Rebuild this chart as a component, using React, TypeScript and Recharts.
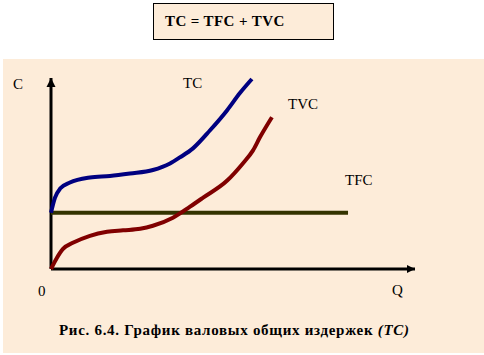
import React from "react";
import { LineChart, Line, XAxis, YAxis, ReferenceDot, ReferenceLine } from "recharts";

// Q (output) vs C (cost)
const tcData = [
  { q: 0, c: 5.6 },
  { q: 0.11, c: 7.1 },
  { q: 0.25, c: 8.0 },
  { q: 0.52, c: 8.6 },
  { q: 1.07, c: 9.1 },
  { q: 1.62, c: 9.25 },
  { q: 2.17, c: 9.5 },
  { q: 2.8, c: 9.85 },
  { q: 3.27, c: 10.5 },
  { q: 3.54, c: 11.1 },
  { q: 3.9, c: 12.0 },
  { q: 4.37, c: 13.8 },
  { q: 4.84, c: 15.8 },
  { q: 5.19, c: 17.5 },
  { q: 5.52, c: 18.9 },
];

const tvcData = [
  { q: 0, c: 0 },
  { q: 0.16, c: 1.1 },
  { q: 0.33, c: 2.0 },
  { q: 0.6, c: 2.6 },
  { q: 1.07, c: 3.3 },
  { q: 1.54, c: 3.7 },
  { q: 1.98, c: 3.85 },
  { q: 2.45, c: 4.0 },
  { q: 2.8, c: 4.3 },
  { q: 3.35, c: 5.1 },
  { q: 3.82, c: 6.2 },
  { q: 4.18, c: 7.1 },
  { q: 4.84, c: 8.8 },
  { q: 5.27, c: 10.5 },
  { q: 5.55, c: 11.8 },
  { q: 5.74, c: 13.1 },
  { q: 6.07, c: 15.1 },
];

const tfcData = [
  { q: 0, c: 5.6 },
  { q: 8.16, c: 5.6 },
];

const Q_MAX = 10;
const C_MAX = 19;

const serif = "Liberation Serif, DejaVu Serif, serif";

const UpArrow = (props: any) => {
  const { cx, cy } = props;
  return <polygon points={`${cx},${cy} ${cx - 4.5},${cy + 9} ${cx + 4.5},${cy + 9}`} fill="#000" />;
};

const RightArrow = (props: any) => {
  const { cx, cy } = props;
  return <polygon points={`${cx},${cy} ${cx - 8},${cy - 4} ${cx - 8},${cy + 4}`} fill="#000" />;
};

const App: React.FC = () => {
  return (
    <div style={{ position: "relative", width: 484, height: 355, background: "#fff", fontFamily: serif }}>
      <style>{`body{margin:0}`}</style>

      {/* beige panel */}
      <div style={{ position: "absolute", left: 3, top: 59, width: 481, height: 294, background: "#FDECD9" }} />

      {/* formula box */}
      <div
        style={{
          position: "absolute",
          left: 153,
          top: 3,
          width: 179,
          height: 35,
          background: "#FDECD9",
          border: "1.5px solid #000",
        }}
      />

      <div style={{ position: "absolute", left: 0, top: 0 }}>
        <LineChart width={484} height={355} margin={{ top: 78, right: 69, bottom: 86, left: 51 }}>
          <XAxis type="number" dataKey="q" domain={[0, Q_MAX]} hide allowDuplicatedCategory={false} />
          <YAxis type="number" dataKey="c" domain={[0, C_MAX]} hide />
          <ReferenceLine
            segment={[{ x: 0, y: 0 }, { x: Q_MAX, y: 0 }]}
            stroke="#000"
            strokeWidth={3}
            ifOverflow="visible"
          />
          <ReferenceLine
            segment={[{ x: 0, y: 0 }, { x: 0, y: C_MAX }]}
            stroke="#000"
            strokeWidth={3}
            ifOverflow="visible"
          />
          <Line data={tfcData} dataKey="c" type="linear" stroke="#333300" strokeWidth={4} dot={false} isAnimationActive={false} />
          <Line data={tcData} dataKey="c" type="monotone" stroke="#000080" strokeWidth={4} dot={false} isAnimationActive={false} />
          <Line data={tvcData} dataKey="c" type="monotone" stroke="#800000" strokeWidth={4} dot={false} isAnimationActive={false} />
          <ReferenceDot x={0} y={C_MAX} shape={UpArrow} ifOverflow="visible" />
          <ReferenceDot x={Q_MAX} y={0} shape={RightArrow} ifOverflow="visible" />
        </LineChart>
      </div>

      {/* text overlay */}
      <svg width={484} height={355} style={{ position: "absolute", left: 0, top: 0, pointerEvents: "none" }}>
        <g style={{ fontFamily: serif }} fill="#000">
          <text x={165} y={26} fontSize={15} fontWeight="bold" letterSpacing={0.4}>TC = TFC + TVC</text>
          <text x={13} y={89} fontSize={15}>C</text>
          <text x={38} y={296} fontSize={15}>0</text>
          <text x={392} y={295} fontSize={15}>Q</text>
          <text x={183} y={88} fontSize={15}>TC</text>
          <text x={288} y={109} fontSize={15}>TVC</text>
          <text x={345} y={185} fontSize={15}>TFC</text>
          <text x={59} y={335} fontSize={15} fontWeight="bold" letterSpacing={0.7}>
            Рис. 6.4. График валовых общих издержек <tspan fontStyle="italic">(TC)</tspan>
          </text>
        </g>
      </svg>
    </div>
  );
};

export default App;
